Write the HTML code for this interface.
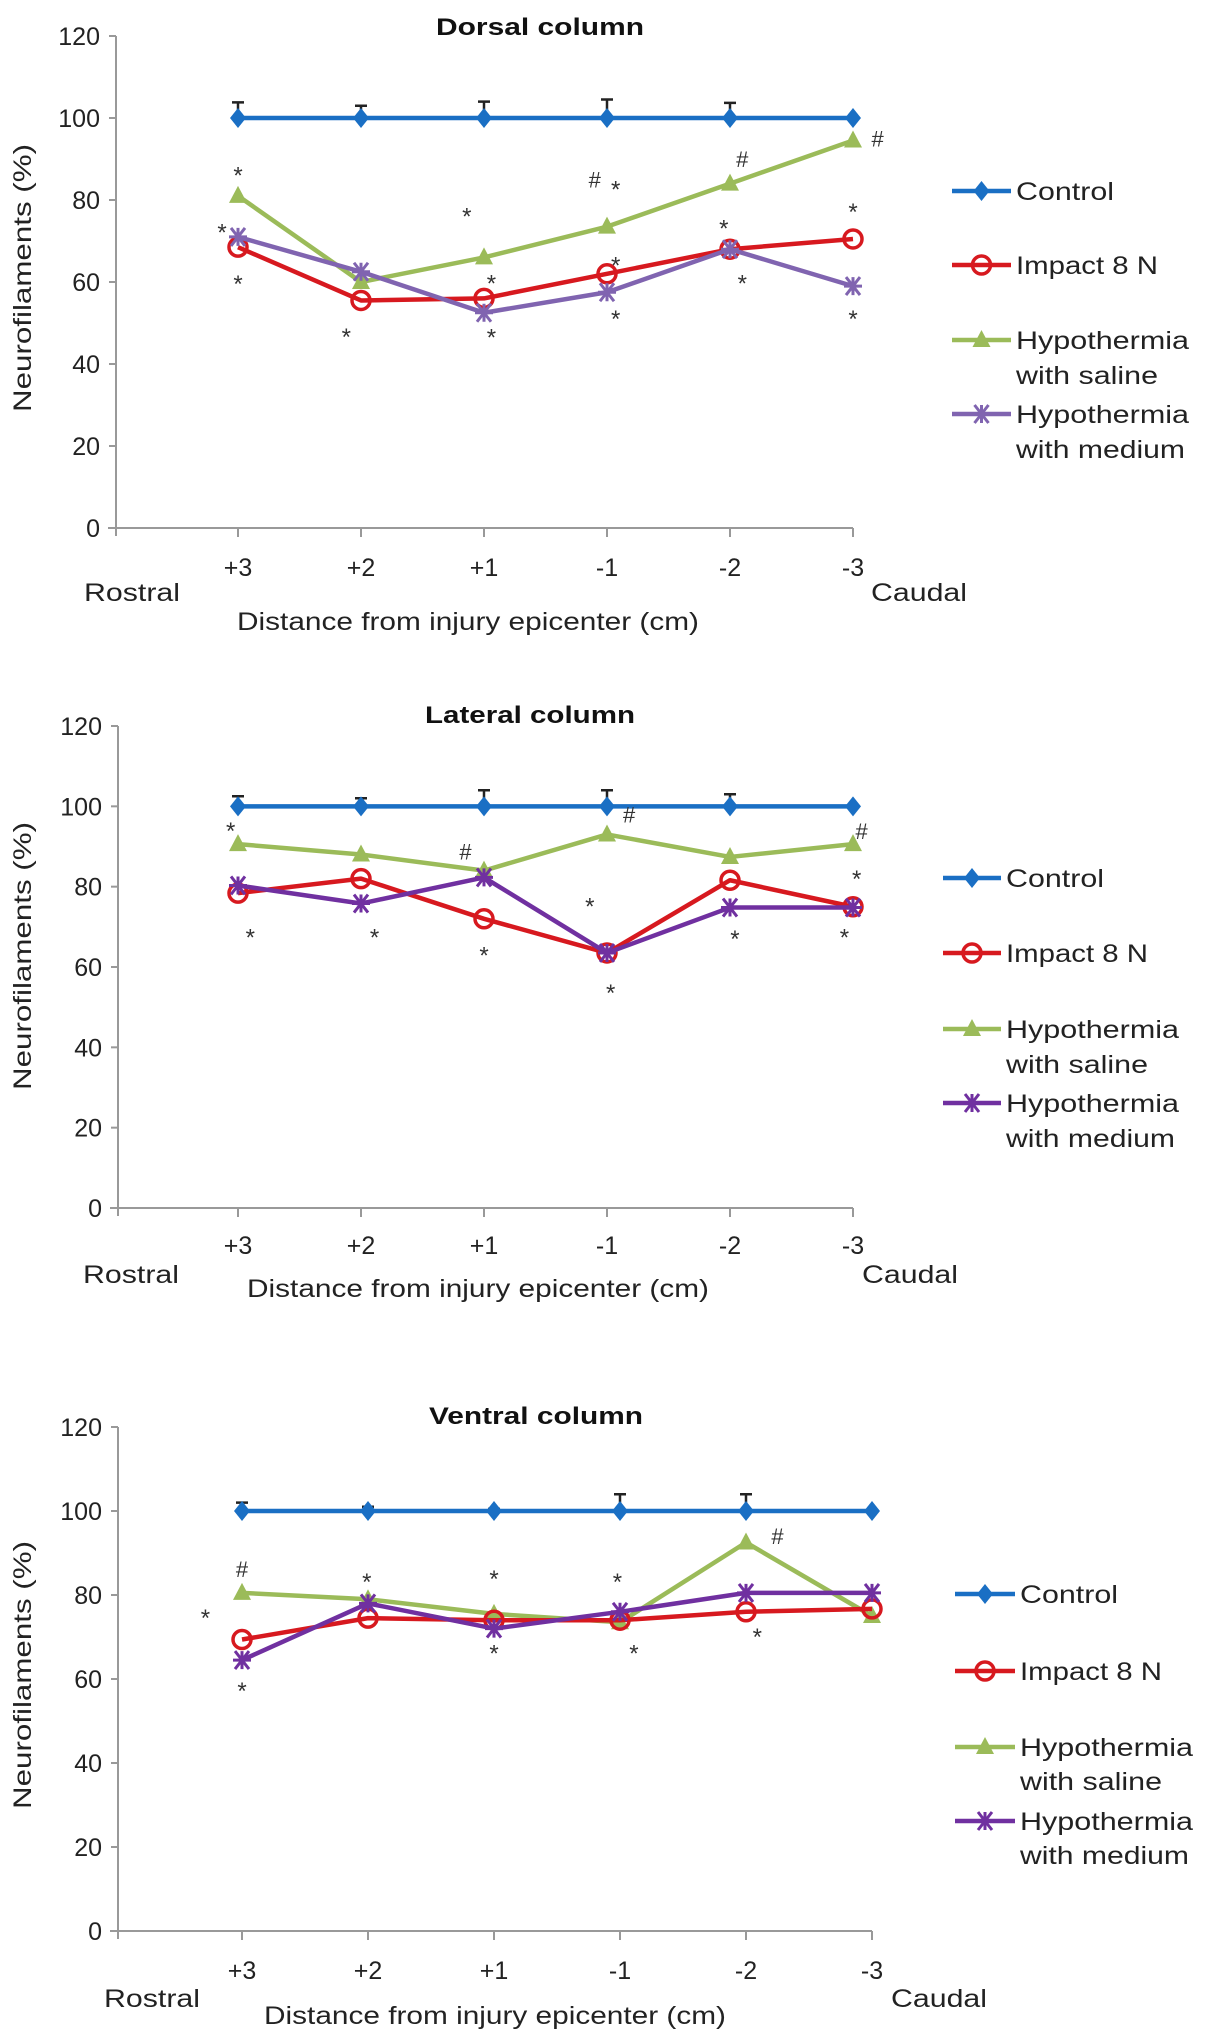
<!DOCTYPE html>
<html><head><meta charset="utf-8"><style>
html,body{margin:0;padding:0;background:#fff;}
svg{display:block;font-family:"Liberation Sans",Arial,sans-serif;}
</style></head><body>
<svg id="fig" width="1207" height="2040" viewBox="0 0 1207 2040"></svg>
<script>
const categories = ["+3","+2","+1","-1","-2","-3"];
const yTicks = [0,20,40,60,80,100,120];
const seriesNames = ["Control","Impact 8 N","Hypothermia|with saline","Hypothermia|with medium"];

const dorsalControl = [100,100,100,100,100,100];
const dorsalImpact = [68.5,55.5,56,62,68,70.5];
const dorsalSaline = [81,60,66,73.5,84,94.5];
const dorsalMedium = [71,62.5,52.5,57.5,68,59];
const dorsalControlErr = [3.8,3,4,4.5,3.7,0];
const dorsalAnnot = [[0,87,'*'],[0,60.5,'*'],[-0.13,73,'*'],[0.88,47.6,'*'],[1.86,77,'*'],[2.06,60.6,'*'],[2.06,47.4,'*'],[2.9,85,'#'],[3.07,83.5,'*'],[3.07,65,'*'],[3.07,52,'*'],[3.95,74,'*'],[4.1,90,'#'],[4.1,60.6,'*'],[5,78,'*'],[5.2,95,'#'],[5,52,'*']];

const lateralControl = [100,100,100,100,100,100];
const lateralImpact = [78.4,82,72,63.5,81.6,75];
const lateralSaline = [90.6,88,84,93,87.4,90.6];
const lateralMedium = [80.3,75.8,82.3,63.5,74.8,74.8];
const lateralControlErr = [2.5,2,4,4,3,0];
const lateralAnnot = [[-0.06,94.8,'*'],[0.1,68.4,'*'],[1.11,68.4,'*'],[1.85,88.7,'#'],[2.0,63.9,'*'],[2.86,76,'*'],[3.18,98,'#'],[3.03,54.5,'*'],[4.04,68,'*'],[5.07,93.9,'#'],[5.03,82.9,'*'],[4.93,68.4,'*']];

const ventralControl = [100,100,100,100,100,100];
const ventralImpact = [69.4,74.5,74,74,76,76.7];
const ventralSaline = [80.5,79,75.5,73.5,92.5,75];
const ventralMedium = [64.5,78,72,76,80.5,80.5];
const ventralControlErr = [2,1,0.5,4,4,0];
const ventralAnnot = [[0,86.2,'#'],[-0.29,75.5,'*'],[0,58.1,'*'],[0.99,84,'*'],[2,84.8,'*'],[2,67,'*'],[2.98,84,'*'],[3.11,67,'*'],[4.25,94,'#'],[4.09,71,'*']];

const NS="http://www.w3.org/2000/svg";
const svg=document.getElementById('fig');
function mk(tag,attrs,parent,text){const e=document.createElementNS(NS,tag);for(const k in attrs)e.setAttribute(k,attrs[k]);if(text!==undefined)e.textContent=text;(parent||svg).appendChild(e);return e;}

function drawChart(cfg){
  const g=mk('g',{});
  
  
  const X=i=>cfg.x0+i*cfg.dx;
  const Y=v=>cfg.yBottom-(v/120)*(cfg.yBottom-cfg.yTop);
  // axes
  const ya=mk('line',{x1:cfg.axisX,y1:cfg.yTop,x2:cfg.axisX,y2:cfg.yBottom+8,stroke:'#999','stroke-width':2},g);
  
  const xa=mk('line',{x1:cfg.axisX-8,y1:cfg.yBottom,x2:X(5),y2:cfg.yBottom,stroke:'#999','stroke-width':2},g);
  
  yTicks.forEach(t=>{
    mk('line',{x1:cfg.axisX-7,y1:Y(t),x2:cfg.axisX,y2:Y(t),stroke:'#999','stroke-width':2},g);
    const tl=mk('text',{x:cfg.axisX-16,y:Y(t)+9,'text-anchor':'end','font-size':25,fill:'#222'},g,String(t));
    
  });
  categories.forEach((c,i)=>{
    mk('line',{x1:X(i),y1:cfg.yBottom,x2:X(i),y2:cfg.yBottom+9,stroke:'#999','stroke-width':2},g);
    const tl=mk('text',{x:X(i),y:cfg.tickY,'text-anchor':'middle','font-size':25,fill:'#222'},g,c);
    
  });
  const t=mk('text',{x:cfg.titleX,y:cfg.titleY,'text-anchor':'middle','font-size':24,'font-weight':'bold',fill:'#111',textLength:cfg.titleW,lengthAdjust:'spacingAndGlyphs'},g,cfg.title);
  
  const r=mk('text',{x:cfg.rostX,y:cfg.rcY,'font-size':25,fill:'#222',textLength:96,lengthAdjust:'spacingAndGlyphs'},g,'Rostral');
  
  const ca=mk('text',{x:cfg.caudX,y:cfg.rcY,'font-size':25,fill:'#222',textLength:96,lengthAdjust:'spacingAndGlyphs'},g,'Caudal');
  
  const xt=mk('text',{x:cfg.xtX,y:cfg.xtY,'text-anchor':'middle','font-size':25,fill:'#222',textLength:462,lengthAdjust:'spacingAndGlyphs'},g,'Distance from injury epicenter (cm)');
  
  const yt=mk('text',{x:0,y:0,'text-anchor':'middle','font-size':25,fill:'#222',textLength:268,lengthAdjust:'spacingAndGlyphs',transform:`translate(${cfg.ytX},${cfg.ytY}) rotate(-90)`},g,'Neurofilaments  (%)');
  

  // control error bars
  cfg.ctrlErr.forEach((e,i)=>{
    if(e<=0)return;
    const eb=mk('path',{d:`M${X(i)} ${Y(cfg.series[0][i])} V${Y(cfg.series[0][i]+e)} M${X(i)-6} ${Y(cfg.series[0][i]+e)} H${X(i)+6}`,stroke:'#222','stroke-width':2.5,fill:'none'},g);
    
  });
  const colors=[ '#1a6fc4','#d7191f','#9bbb59',cfg.purple];
  const order=[0,2,1,3];
  order.forEach(si=>{
    const vals=cfg.series[si];
    const sg=mk('g',{},g);
    
    
    const pts=vals.map((v,i)=>X(i)+','+Y(v)).join(' ');
    const pl=mk('polyline',{points:pts,fill:'none',stroke:colors[si],'stroke-width':4.5,'stroke-linejoin':'round'},sg);
    
    vals.forEach((v,i)=>{marker(sg,si,X(i),Y(v),colors[si]);});
  });
  cfg.annot.forEach(a=>{
    const at=mk('text',{x:X(a[0]),y:Y(a[1])+(a[2]=='*'?12:8),'text-anchor':'middle','font-size':a[2]=='*'?24:22,fill:'#333'},g,a[2]);
    
    
  });
  // legend
  const L=cfg.legend;
  const labels=[['Control'],['Impact 8 N'],['Hypothermia','with saline'],['Hypothermia','with medium']];
  const widths=[[98],[142],[173,142],[173,169]];
  labels.forEach((lab,si)=>{
    const lg=mk('g',{},g);
    
    
    const ly=L.ys[si];
    mk('line',{x1:L.x1,y1:ly,x2:L.x2,y2:ly,stroke:colors[si],'stroke-width':4.5},lg);
    marker(lg,si,(L.x1+L.x2)/2,ly,colors[si]);
    lab.forEach((s,k)=>{
      mk('text',{x:L.tx,y:ly+9+k*L.lh,'font-size':25,fill:'#222',textLength:widths[si][k],lengthAdjust:'spacingAndGlyphs'},lg,s);
    });
  });
}
function marker(p,si,x,y,c){
  let m;
  if(si===0){m=mk('path',{d:`M${x} ${y-10} L${x+8} ${y} L${x} ${y+10} L${x-8} ${y} Z`,fill:c},p);}
  else if(si===1){m=mk('circle',{cx:x,cy:y,r:9,fill:'none',stroke:c,'stroke-width':3.5},p);}
  else if(si===2){m=mk('path',{d:`M${x} ${y-10} L${x+9} ${y+7} L${x-9} ${y+7} Z`,fill:c},p);}
  else {m=mk('path',{d:`M${x-9} ${y} H${x+9} M${x-7} ${y-9} L${x+7} ${y+9} M${x+7} ${y-9} L${x-7} ${y+9} M${x} ${y-9} V${y+9}`,stroke:c,'stroke-width':3,fill:'none'},p);}
  
  
}

drawChart({name:'dorsal-column-chart',title:'Dorsal column',titleX:540,titleY:35,titleW:208,
  axisX:116,yTop:36,yBottom:528,x0:238,dx:123,tickY:576,rostX:84,caudX:871,rcY:601,xtX:468,xtY:630,ytX:31,ytY:278,
  series:[dorsalControl,dorsalImpact,dorsalSaline,dorsalMedium],ctrlErr:dorsalControlErr,annot:dorsalAnnot,purple:'#8064b0',
  legend:{x1:952,x2:1011,tx:1016,ys:[191,265,340,414],lh:35}});
drawChart({name:'lateral-column-chart',title:'Lateral column',titleX:530,titleY:723,titleW:210,
  axisX:118,yTop:726,yBottom:1208,x0:238,dx:123,tickY:1254,rostX:83,caudX:862,rcY:1283,xtX:478,xtY:1297,ytX:31,ytY:956,
  series:[lateralControl,lateralImpact,lateralSaline,lateralMedium],ctrlErr:lateralControlErr,annot:lateralAnnot,purple:'#7030a0',
  legend:{x1:943,x2:1001,tx:1006,ys:[878,953,1029,1103],lh:35}});
drawChart({name:'ventral-column-chart',title:'Ventral column',titleX:536,titleY:1424,titleW:214,
  axisX:118,yTop:1427,yBottom:1931,x0:242,dx:126,tickY:1979,rostX:104,caudX:891,rcY:2007,xtX:495,xtY:2024,ytX:31,ytY:1675,
  series:[ventralControl,ventralImpact,ventralSaline,ventralMedium],ctrlErr:ventralControlErr,annot:ventralAnnot,purple:'#7030a0',
  legend:{x1:955,x2:1015,tx:1020,ys:[1594,1671,1747,1821],lh:34}});
</script>
</body></html>
